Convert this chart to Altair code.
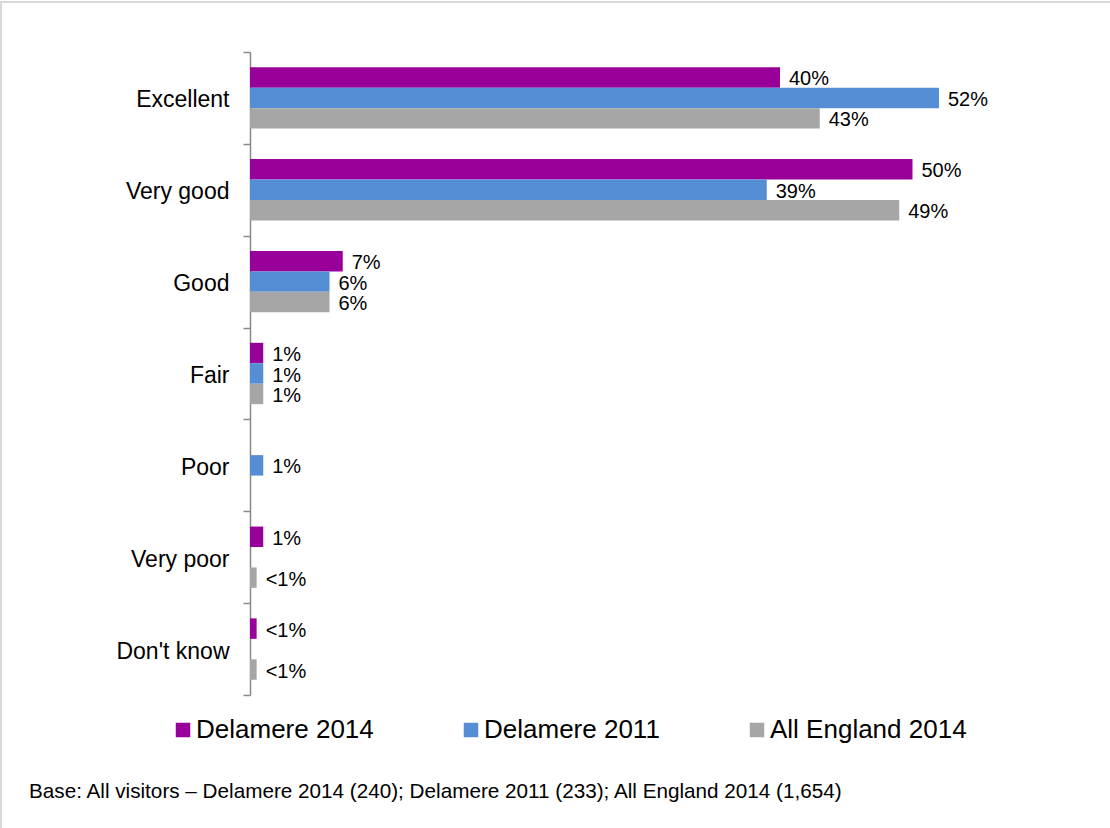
import altair as alt
import pandas as pd

categories = ["Excellent", "Very good", "Good", "Fair", "Poor", "Very poor", "Don't know"]
series = ["Delamere 2014", "Delamere 2011", "All England 2014"]
colors = ["#990099", "#558ED5", "#A6A6A6"]
# 0.5 stands for "<1%"; None = no bar
delamere_2014 = [40, 50, 7, 1, None, 1, 0.5]
delamere_2011 = [52, 39, 6, 1, 1, None, None]
all_england_2014 = [43, 49, 6, 1, None, 0.5, 0.5]
footnote = "Base: All visitors \u2013 Delamere 2014 (240); Delamere 2011 (233); All England 2014 (1,654)"

rows = []
for s, vals in zip(series, [delamere_2014, delamere_2011, all_england_2014]):
    for c, v in zip(categories, vals):
        if v is None:
            continue
        rows.append({"category": c, "series": s, "value": v,
                     "label": "<1%" if v < 1 else f"{v:g}%"})
df = pd.DataFrame(rows)

FONT = "Liberation Sans"

y_enc = alt.Y("category:N", sort=categories, title=None,
              scale=alt.Scale(paddingInner=0, paddingOuter=0),
              axis=alt.Axis(labelFontSize=23, labelColor="black", labelFont=FONT,
                            labelPadding=14, labelOffset=2, tickSize=7, tickBand="extent",
                            domainColor="#898989", tickColor="#898989",
                            domainWidth=1.5, tickWidth=1.5, grid=False))
yoff = alt.YOffset("series:N", sort=series,
                   scale=alt.Scale(paddingInner=0, paddingOuter=0.745))
x_enc = alt.X("value:Q", scale=alt.Scale(domain=[0, 60]), axis=None)

base = alt.Chart(df)

bars = base.mark_bar().encode(
    y=y_enc, yOffset=yoff, x=x_enc,
    color=alt.Color("series:N", sort=series,
                    scale=alt.Scale(domain=series, range=colors),
                    legend=alt.Legend(title=None, orient="none", direction="horizontal",
                                      legendX=-80, legendY=665, symbolType="square",
                                      symbolSize=210, symbolStrokeWidth=0,
                                      labelFontSize=26, labelFont=FONT, labelColor="black",
                                      labelOffset=0, columnPadding=84, labelLimit=400,
                                      padding=0)),
)

texts = base.mark_text(align="left", baseline="middle", dx=9, dy=2, fontSize=20,
                       font=FONT, color="black").encode(
    y=alt.Y("category:N", sort=categories), yOffset=alt.YOffset("series:N", sort=series),
    x="value:Q", text="label:N",
)

note = alt.Chart(pd.DataFrame({"t": [footnote]})).mark_text(
    align="left", baseline="alphabetic", fontSize=20.7, font=FONT, color="black"
).encode(x=alt.value(-221), y=alt.value(746), text="t:N")

border_top = alt.Chart(pd.DataFrame({"a": [0]})).mark_rule(color="#d9d9d9", strokeWidth=2).encode(
    x=alt.value(-250), x2=alt.value(860), y=alt.value(-50))
border_left = alt.Chart(pd.DataFrame({"a": [0]})).mark_rule(color="#d9d9d9", strokeWidth=2).encode(
    x=alt.value(-249), y=alt.value(-51), y2=alt.value(776))

chart = alt.layer(bars, texts, note, border_top, border_left).properties(
    width=795, height=643,
    autosize=alt.AutoSizeParams(type="none"),
    padding={"left": 250, "top": 52, "right": 65, "bottom": 133},
    background="white",
).configure_view(stroke=None)

chart.save("out.html", embed_options={"renderer": "svg", "actions": False})
